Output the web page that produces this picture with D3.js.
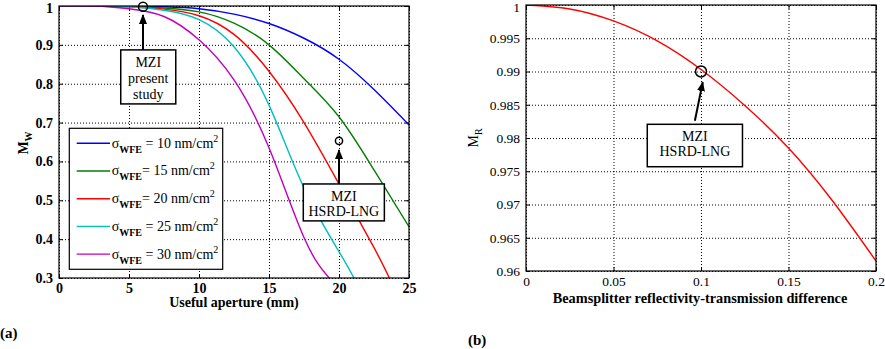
<!DOCTYPE html>
<html>
<head>
<meta charset="utf-8">
<script src="https://cdn.jsdelivr.net/npm/d3@7"></script>
<style>
  body { margin: 0; background: #fff; }
  text { font-family: "Times New Roman", "Liberation Serif", "DejaVu Serif", serif; fill: #000; }
  .grid line { stroke: #777; stroke-dasharray: 1,2; }
  .grid .domain { display: none; }
  .tick line { stroke: #000; }
</style>
</head>
<body>
<script>
// ---- panel (a): M_W vs useful aperture ----
const apertureMm = [0, 2.5, 5, 7.5, 10, 12.5, 15, 17.5, 20, 22.5, 25];
const mwSigma10 = [1, 1, 1, 0.998, 0.993, 0.979, 0.955, 0.917, 0.863, 0.785, 0.694];
const mwSigma15 = [1, 1, 0.999, 0.995, 0.985, 0.956, 0.900, 0.813, 0.715, 0.578, 0.432];
const mwSigma20 = [1, 1, 0.998, 0.992, 0.975, 0.927, 0.832, 0.700, 0.542, 0.378];
const mwSigma25 = [1, 1, 0.998, 0.989, 0.965, 0.895, 0.745, 0.532, 0.368];
const mwSigma30 = [1, 1, 0.993, 0.973, 0.913, 0.810, 0.635, 0.404];
// aperture where a curve drops out of the plot (M = 0.3)
const mwCutoff = [null, null, 23.6, 21.07, 19.3];
const legendValues = ["= 10 nm/cm", "= 15 nm/cm", "= 20 nm/cm", "= 25 nm/cm", "= 30 nm/cm"];
const legendGap = [" ", "", "", " ", " "];
const sigmaColors = ["#0000ff", "#008000", "#ff0000", "#00bfbf", "#bf00bf"];
const xTicksW = [0, 5, 10, 15, 20, 25];
const yTicksW = [0.3, 0.4, 0.5, 0.6, 0.7, 0.8, 0.9, 1];

// ---- panel (b): M_R vs beamsplitter R-T difference ----
const rtDifference = [0, 0.025, 0.05, 0.075, 0.1, 0.125, 0.15, 0.175, 0.2];
const mrValues = [1, 0.9994, 0.9976, 0.9946, 0.9903, 0.9849, 0.9785, 0.9706, 0.9615];
const xTicksR = [0, 0.05, 0.1, 0.15, 0.2];
const yTicksR = [0.96, 0.965, 0.97, 0.975, 0.98, 0.985, 0.99, 0.995, 1];

let serif = "'Times New Roman', 'Liberation Serif', 'DejaVu Serif', serif";
let fmt = d3.format("~g");

let svg = d3.select("body").append("svg")
  .attr("width", 885)
  .attr("height", 349);

let defs = svg.append("defs");
defs.append("marker")
  .attr("id", "arrow")
  .attr("markerUnits", "userSpaceOnUse")
  .attr("markerWidth", 10).attr("markerHeight", 8)
  .attr("refX", 9).attr("refY", 4)
  .attr("orient", "auto")
  .append("path")
  .attr("d", "M0,0 L10,4 L0,8 z")
  .attr("fill", "#000");

// draws grid, inward ticks on four sides and the frame; returns the plot group
var drawPanel = function(id, left, top, w, h, x, y, xTicks, yTicks, bold, fontSize) {
  let g = svg.append("g").attr("id", id).attr("transform", "translate(" + left + "," + top + ")");

  g.append("g").attr("class", "grid")
    .attr("transform", "translate(0," + h + ")")
    .call(d3.axisBottom(x).tickValues(xTicks).tickSize(-h).tickFormat(""));
  g.append("g").attr("class", "grid")
    .call(d3.axisLeft(y).tickValues(yTicks).tickSize(-w).tickFormat(""));

  let xb = g.append("g").attr("transform", "translate(0," + h + ")")
    .call(d3.axisBottom(x).tickValues(xTicks).tickSize(-4).tickSizeOuter(0).tickPadding(5).tickFormat(fmt));
  let yl = g.append("g")
    .call(d3.axisLeft(y).tickValues(yTicks).tickSize(-4).tickSizeOuter(0).tickPadding(6).tickFormat(fmt));
  g.append("g").call(d3.axisTop(x).tickValues(xTicks).tickSize(-4).tickSizeOuter(0).tickFormat(""));
  g.append("g").attr("transform", "translate(" + w + ",0)")
    .call(d3.axisRight(y).tickValues(yTicks).tickSize(-4).tickSizeOuter(0).tickFormat(""));
  g.selectAll(".domain").remove();
  g.selectAll("g").attr("font-family", null);

  [xb, yl].forEach(function(a) {
    a.selectAll("text")
      .style("font-family", serif)
      .style("font-size", fontSize + "px")
      .style("font-weight", bold ? "bold" : "normal")
      .attr("fill", "#000");
  });
  // keep the top label inside the page
  yl.selectAll("text").filter(function(d) { return d === 1; }).attr("dy", "0.45em");

  g.append("rect")
    .attr("width", w).attr("height", h)
    .attr("fill", "none").attr("stroke", "#000").attr("stroke-width", 1.2);

  g.append("defs").append("clipPath").attr("id", id + "-clip")
    .append("rect").attr("width", w).attr("height", h);

  return g;
};

var drawBox = function(g, x0, y0, x1, y1, lines, lineGap) {
  g.append("rect")
    .attr("x", x0).attr("y", y0)
    .attr("width", x1 - x0).attr("height", y1 - y0)
    .attr("fill", "#fff").attr("stroke", "#000").attr("stroke-width", 1.5);
  lines.forEach(function(t, i) {
    g.append("text")
      .attr("x", (x0 + x1) / 2)
      .attr("y", y0 + 17 + i * lineGap)
      .attr("text-anchor", "middle")
      .style("font-size", "14px")
      .text(t);
  });
};

// ================= panel (a) =================
let wA = 350, hA = 272;
let xW = d3.scaleLinear().domain([0, 25]).range([0, wA]);
let yW = d3.scaleLinear().domain([0.3, 1]).range([hA, 0]);
let plotA = drawPanel("plotA", 59, 6, wA, hA, xW, yW, xTicksW, yTicksW, true, 14);

let mwSeries = [mwSigma10, mwSigma15, mwSigma20, mwSigma25, mwSigma30];
let lineW = d3.line()
  .x(function(d) { return xW(d[0]); })
  .y(function(d) { return yW(d[1]); })
  .curve(d3.curveNatural);

let curvesA = plotA.insert("g", "rect").attr("clip-path", "url(#plotA-clip)");
mwSeries.forEach(function(vals, i) {
  let pts = vals.map(function(v, j) { return [apertureMm[j], v]; });
  if (mwCutoff[i] !== null) pts.push([mwCutoff[i], 0.3]);
  curvesA.append("path")
    .attr("d", lineW(pts))
    .attr("fill", "none")
    .attr("stroke", sigmaColors[i])
    .attr("stroke-width", 1.4);
});

// annotation: MZI present study
plotA.append("circle")
  .attr("cx", xW(6)).attr("cy", yW(0.998)).attr("r", 4.5)
  .attr("fill", "none").attr("stroke", "#000").attr("stroke-width", 1.5);
plotA.append("line")
  .attr("x1", xW(6)).attr("y1", yW(0.887))
  .attr("x2", xW(6)).attr("y2", yW(0.977))
  .attr("stroke", "#000").attr("stroke-width", 2)
  .attr("marker-end", "url(#arrow)");
drawBox(plotA, xW(4.41), yW(0.887), xW(8.34), yW(0.748), ["MZI", "present", "study"], 16);

// annotation: MZI HSRD-LNG
plotA.append("circle")
  .attr("cx", xW(20)).attr("cy", yW(0.653)).attr("r", 3.6)
  .attr("fill", "none").attr("stroke", "#000").attr("stroke-width", 1.5);
plotA.append("line")
  .attr("x1", xW(20)).attr("y1", yW(0.542))
  .attr("x2", xW(20)).attr("y2", yW(0.6295))
  .attr("stroke", "#000").attr("stroke-width", 2)
  .attr("marker-end", "url(#arrow)");
drawBox(plotA, xW(17.45), yW(0.542), xW(23.24), yW(0.447), ["MZI", "HSRD-LNG"], 15.5);

// legend
let legend = plotA.append("g").attr("transform", "translate(" + (69.3 - 59) + "," + (128.3 - 6) + ")");
legend.append("rect")
  .attr("width", 153.4).attr("height", 141)
  .attr("fill", "#fff").attr("stroke", "#000").attr("stroke-width", 1.2);
sigmaColors.forEach(function(c, i) {
  let ly = 15 + i * 27.7;
  legend.append("line")
    .attr("x1", 7.4).attr("x2", 40.7)
    .attr("y1", ly).attr("y2", ly)
    .attr("stroke", c).attr("stroke-width", 1.4);
  let t = legend.append("text")
    .attr("x", 42.4).attr("y", ly + 4.5)
    .style("font-size", "14px");
  t.append("tspan").text("σ");
  t.append("tspan").attr("dy", 5).style("font-size", "10px").style("font-weight", "bold").text("WFE");
  t.append("tspan").attr("dy", -5).text(legendGap[i] + legendValues[i]);
  t.append("tspan").attr("dy", -6).style("font-size", "10px").text("2");
});

// axis labels (a)
svg.append("text")
  .attr("x", 234).attr("y", 307)
  .attr("text-anchor", "middle")
  .style("font-size", "14px").style("font-weight", "bold")
  .text("Useful aperture (mm)");
let mwLabel = svg.append("text")
  .attr("transform", "translate(28,143) rotate(-90)")
  .attr("text-anchor", "middle")
  .style("font-size", "14px").style("font-weight", "bold");
mwLabel.append("tspan").text("M");
mwLabel.append("tspan").attr("dy", 4).style("font-size", "10px").text("W");

svg.append("text")
  .attr("x", 0).attr("y", 338)
  .style("font-size", "15px").style("font-weight", "bold")
  .text("(a)");

// ================= panel (b) =================
let wB = 350, hB = 266;
let xR = d3.scaleLinear().domain([0, 0.2]).range([0, wB]);
let yR = d3.scaleLinear().domain([0.96, 1]).range([hB, 0]);
let plotB = drawPanel("plotB", 526, 5, wB, hB, xR, yR, xTicksR, yTicksR, false, 13.5);

let lineR = d3.line()
  .x(function(d, i) { return xR(rtDifference[i]); })
  .y(function(d) { return yR(d); })
  .curve(d3.curveNatural);

plotB.insert("g", "rect").attr("clip-path", "url(#plotB-clip)")
  .append("path")
  .attr("d", lineR(mrValues))
  .attr("fill", "none")
  .attr("stroke", "#ff0000")
  .attr("stroke-width", 1.4);

plotB.append("circle")
  .attr("cx", xR(0.1)).attr("cy", yR(0.99)).attr("r", 5.5)
  .attr("fill", "none").attr("stroke", "#000").attr("stroke-width", 1.5);
plotB.append("line")
  .attr("x1", xR(0.0965)).attr("y1", yR(0.9826))
  .attr("x2", xR(0.101)).attr("y2", yR(0.9884))
  .attr("stroke", "#000").attr("stroke-width", 2)
  .attr("marker-end", "url(#arrow)");
drawBox(plotB, xR(0.0693), yR(0.98206), xR(0.1237), yR(0.97568), ["MZI", "HSRD-LNG"], 15);

svg.append("text")
  .attr("x", 700).attr("y", 303)
  .attr("text-anchor", "middle")
  .style("font-size", "14.3px").style("font-weight", "bold")
  .text("Beamsplitter reflectivity-transmission difference");
let mrLabel = svg.append("text")
  .attr("transform", "translate(478,138) rotate(-90)")
  .attr("text-anchor", "middle")
  .style("font-size", "14px");
mrLabel.append("tspan").text("M");
mrLabel.append("tspan").attr("dy", 4).style("font-size", "10px").text("R");

svg.append("text")
  .attr("x", 468).attr("y", 345)
  .style("font-size", "15px").style("font-weight", "bold")
  .text("(b)");
</script>
</body>
</html>
